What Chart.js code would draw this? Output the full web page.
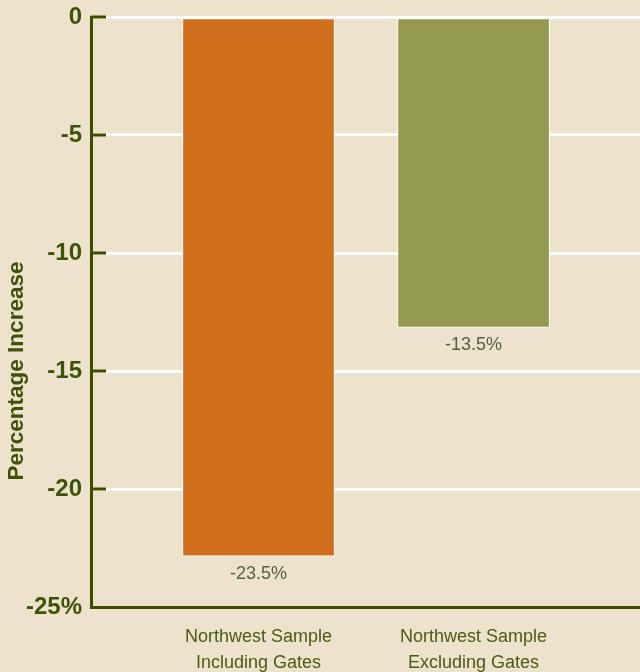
<!DOCTYPE html>
<html>
<head>
<meta charset="utf-8">
<script src="https://cdn.jsdelivr.net/npm/chart.js@4.4.1/dist/chart.umd.min.js"></script>
<style>
  html, body { margin: 0; padding: 0; background: #ede3cd; }
  #wrap { width: 640px; height: 672px; }
</style>
</head>
<body>
<div id="wrap"><canvas id="myChart" width="640" height="672"></canvas></div>
<script>
// data
const categories = ['Northwest Sample\nIncluding Gates', 'Northwest Sample\nExcluding Gates'];
const barValues = [-22.85, -13.15];          // bar ends as drawn
const valueLabels = ['-23.5%', '-13.5%'];     // printed labels
const barColors = ['#d06e1b', '#949a50'];
const yTicks = [0, -5, -10, -15, -20, -25];

const FONT = "'Liberation Sans', Arial, sans-serif";
const DARK = '#3d4d00';
const TEXT = '#3f520a';

const innerTicks = {
    id: 'innerTicks',
    beforeDatasetsDraw(chart) {
        const y = chart.scales.y;
        const ctx = chart.ctx;
        ctx.save();
        ctx.strokeStyle = DARK;
        ctx.lineWidth = 3;
        yTicks.forEach(v => {
            if (v === -25) return;
            const py = y.getPixelForValue(v);
            ctx.beginPath();
            ctx.moveTo(chart.chartArea.left, py);
            ctx.lineTo(chart.chartArea.left + 15, py);
            ctx.stroke();
        });
        ctx.restore();
    }
};

const barLabels = {
    id: 'barLabels',
    afterDatasetsDraw(chart) {
        const ctx = chart.ctx;
        const meta = chart.getDatasetMeta(0);
        ctx.save();
        ctx.font = '18px ' + FONT;
        ctx.fillStyle = '#55603f';
        ctx.textAlign = 'center';
        ctx.textBaseline = 'middle';
        meta.data.forEach((bar, i) => {
            ctx.fillText(valueLabels[i], bar.x, bar.y + 18);
        });
        ctx.restore();
    }
};

const yTitle = {
    id: 'yTitle',
    afterDraw(chart) {
        const ctx = chart.ctx;
        ctx.save();
        ctx.translate(17, 371);
        ctx.rotate(-Math.PI / 2);
        ctx.font = 'bold 22.5px ' + FONT;
        ctx.fillStyle = TEXT;
        ctx.textAlign = 'center';
        ctx.textBaseline = 'middle';
        ctx.fillText('Percentage Increase', 0, 0);
        ctx.restore();
    }
};

const ctx = document.getElementById('myChart').getContext('2d');
const myChart = new Chart(ctx, {
    type: 'bar',
    data: {
        datasets: [{
            data: barValues.map((v, i) => ({ x: i, y: v })),
            backgroundColor: barColors,
            borderColor: '#ffffff',
            borderWidth: 1,
            borderSkipped: false,
            barThickness: 152
        }]
    },
    plugins: [innerTicks, barLabels, yTitle],
    options: {
        responsive: false,
        animation: false,
        layout: { padding: { top: 17, right: 0, left: 0, bottom: 0 } },
        plugins: {
            legend: { display: false },
            tooltip: { enabled: false }
        },
        scales: {
            x: {
                type: 'linear',
                offset: false,
                min: -0.779,
                max: 1.774,
                afterBuildTicks: scale => {
                    scale.ticks = categories.map((c, i) => ({ value: i }));
                },
                afterFit: scale => {
                    scale.height = 65;
                    scale.paddingLeft = 0;
                    scale.paddingRight = 0;
                },
                grid: { display: false },
                border: { display: true, color: DARK, width: 3 },
                ticks: {
                    autoSkip: false,
                    maxRotation: 0,
                    padding: 9,
                    color: '#4b5a14',
                    font: { family: FONT, size: 18, lineHeight: 1.45 },
                    callback: (v) => categories[v] ? categories[v].split('\n') : ''
                }
            },
            y: {
                min: -25,
                max: 0,
                afterBuildTicks: scale => {
                    scale.ticks = yTicks.map(v => ({ value: v }));
                },
                afterFit: scale => {
                    scale.width = 91;
                    scale.paddingTop = 0;
                    scale.paddingBottom = 0;
                },
                grid: {
                    color: ctx => ctx.tick && ctx.tick.value === -25 ? 'rgba(0,0,0,0)' : '#ffffff',
                    lineWidth: 3,
                    drawTicks: false
                },
                border: { display: true, color: DARK, width: 3 },
                ticks: {
                    padding: 9,
                    color: TEXT,
                    font: { family: FONT, size: 24, weight: 'bold' },
                    callback: v => v === -25 ? '-25%' : String(v)
                }
            }
        }
    }
});
</script>
</body>
</html>
